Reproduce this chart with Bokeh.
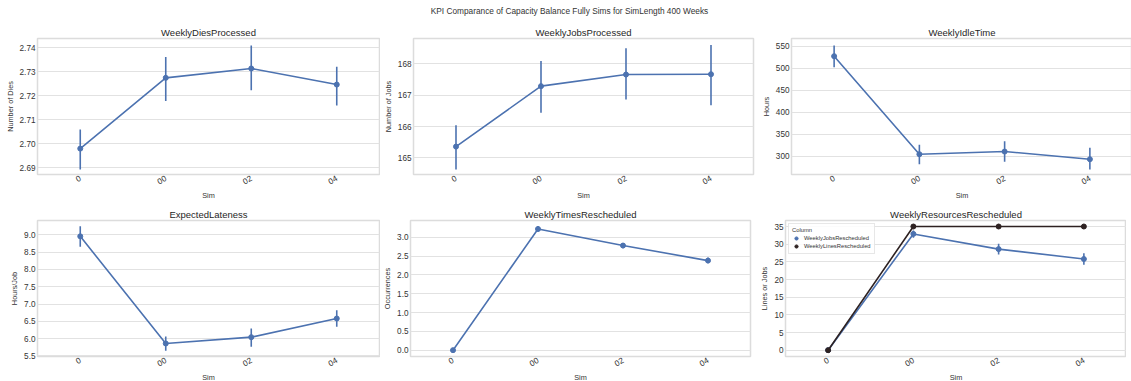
from bokeh.plotting import figure
from bokeh.layouts import column, row
from bokeh.models import (Range1d, FixedTicker, PrintfTickFormatter, Div, Label,
                          Legend, LegendItem)
from bokeh.embed import file_html
from bokeh.resources import INLINE

# ---------------- data ----------------
sims = ["0", "00", "02", "04"]

dies_mean = [2.6980, 2.7275, 2.7314, 2.7247]   # x 1e8
dies_low = [2.6893, 2.7178, 2.7223, 2.7160]
dies_high = [2.7060, 2.7362, 2.7410, 2.7321]
dies_ticks = [2.69, 2.70, 2.71, 2.72, 2.73, 2.74]

jobs_mean = [165.36, 167.29, 167.66, 167.67]
jobs_low = [164.63, 166.44, 166.86, 166.68]
jobs_high = [166.04, 168.09, 168.50, 168.60]
jobs_ticks = [165, 166, 167, 168]

idle_mean = [527.3, 304.5, 310.6, 293.2]
idle_low = [502.3, 281.8, 287.3, 269.8]
idle_high = [551.5, 325.8, 334.0, 319.0]
idle_ticks = [300, 350, 400, 450, 500, 550]

late_mean = [8.96, 5.857, 6.04, 6.58]
late_low = [8.66, 5.645, 5.76, 6.34]
late_high = [9.25, 6.06, 6.29, 6.82]
late_ticks = [5.5, 6.0, 6.5, 7.0, 7.5, 8.0, 8.5, 9.0]

times_mean = [0.0, 3.22, 2.78, 2.38]
times_low = [0.0, 3.15, 2.71, 2.31]
times_high = [0.0, 3.29, 2.85, 2.46]
times_ticks = [0.0, 0.5, 1.0, 1.5, 2.0, 2.5, 3.0]

resjobs_mean = [0.0, 32.9, 28.6, 25.8]
resjobs_low = [0.0, 31.8, 27.1, 24.2]
resjobs_high = [0.0, 33.9, 30.1, 27.4]
reslines_mean = [0.0, 35.0, 35.0, 35.0]
res_ticks = [0, 5, 10, 15, 20, 25, 30, 35]

BLUE = "#4c72b0"
DARK = "#2e2222"
FONT = "Liberation Sans"
TXT = "#333333"
GRID = "#e2e2e2"


def make_fig(title, ylabel, yr, ticks, fmt, left, fw, right, top, bottom, xlab_standoff):
    p = figure(x_range=sims, y_range=Range1d(*yr), frame_width=fw, frame_height=136,
               min_border_left=left, min_border_right=right, min_border_top=top,
               min_border_bottom=bottom, output_backend="svg", toolbar_location=None,
               title=title)
    p.title.text_font = FONT
    p.title.text_font_size = "9.5px"
    p.title.text_font_style = "normal"
    p.title.text_color = "#262626"
    p.title.align = "center"
    p.title.standoff = 2
    p.xaxis.axis_label = "Sim"
    p.yaxis.axis_label = ylabel
    for ax in (p.xaxis[0], p.yaxis[0]):
        ax.axis_line_color = None
        ax.major_tick_line_color = None
        ax.minor_tick_line_color = None
        ax.major_tick_out = 0
        ax.major_tick_in = 0
        ax.minor_tick_out = 0
        ax.minor_tick_in = 0
        ax.major_label_text_font = FONT
        ax.major_label_text_font_size = "8.2px"
        ax.major_label_text_color = TXT
        ax.axis_label_text_font = FONT
        ax.axis_label_text_font_size = "7.3px"
        ax.axis_label_text_font_style = "normal"
        ax.axis_label_text_color = TXT
    p.xaxis.major_label_orientation = 0.52
    p.xaxis.major_label_standoff = 3
    p.xaxis.axis_label_standoff = xlab_standoff
    p.yaxis.major_label_standoff = 2
    p.yaxis.axis_label_standoff = 2
    p.yaxis.ticker = FixedTicker(ticks=ticks)
    p.yaxis.formatter = PrintfTickFormatter(format=fmt)
    p.xgrid.grid_line_color = None
    p.ygrid.grid_line_color = GRID
    p.ygrid.grid_line_width = 1
    p.outline_line_color = "#dcdcdc"
    p.outline_line_width = 1.5
    p.background_fill_color = "white"
    p.border_fill_color = "white"
    return p


def draw(p, mean, low, high, color):
    p.line(sims, mean, color=color, line_width=1.6)
    p.segment(x0=sims, y0=low, x1=sims, y1=high, color=color, line_width=1.6)
    return p.scatter(sims, mean, size=5, color=color)


# layout geometry (borders)
T1, B1 = 20, 26
T2, B2 = 17, 24

f1 = make_fig("WeeklyDiesProcessed", "Number of Dies", (2.6872, 2.7439), dies_ticks, "%.2f",
              37, 342, 1, T1, B1, 1)
draw(f1, dies_mean, dies_low, dies_high, BLUE)
f1.add_layout(Label(x=0, y=2.7439, x_offset=1, y_offset=2, text="1e8", text_font=FONT,
                    text_font_size="5.5px", text_color=TXT, text_baseline="bottom"))

f2 = make_fig("WeeklyJobsProcessed", "Number of Jobs", (164.47, 168.81), jobs_ticks, "%d",
              30, 340, 5, T1, B1, 1)
draw(f2, jobs_mean, jobs_low, jobs_high, BLUE)

f3 = make_fig("WeeklyIdleTime", "Hours", (258.4, 567.5), idle_ticks, "%d",
              30, 341, 0, T1, B1, 1)
draw(f3, idle_mean, idle_low, idle_high, BLUE)

f4 = make_fig("ExpectedLateness", "Hours/Job", (5.48, 9.418), late_ticks, "%.1f",
              37, 342, 1, T2, B2, 1)
draw(f4, late_mean, late_low, late_high, BLUE)

f5 = make_fig("WeeklyTimesRescheduled", "Occurrences", (-0.168, 3.445), times_ticks, "%.1f",
              30, 340, 5, T2, B2, 1)
draw(f5, times_mean, times_low, times_high, BLUE)

f6 = make_fig("WeeklyResourcesRescheduled", "Lines or Jobs", (-1.79, 36.7), res_ticks, "%d",
              30, 341, 0, T2, B2, 1)
r_jobs = draw(f6, resjobs_mean, resjobs_low, resjobs_high, BLUE)
r_lines = draw(f6, reslines_mean, reslines_mean, reslines_mean, DARK)
legend = Legend(items=[LegendItem(label="WeeklyJobsRescheduled", renderers=[r_jobs]),
                       LegendItem(label="WeeklyLinesRescheduled", renderers=[r_lines])],
                location="top_left", title="Column")
legend.title_text_font = FONT
legend.title_text_font_size = "5.8px"
legend.title_text_font_style = "normal"
legend.title_text_color = TXT
legend.title_standoff = 1
legend.label_text_font = FONT
legend.label_text_font_size = "5.8px"
legend.label_text_color = TXT
legend.glyph_width = 8
legend.glyph_height = 8
legend.label_height = 8
legend.label_standoff = 4
legend.spacing = 0
legend.padding = 3
legend.margin = 3
legend.border_line_color = "#d0d0d0"
legend.border_line_width = 1
legend.background_fill_alpha = 0.85
f6.add_layout(legend)

sup = Div(text='<div style="position:relative;top:-3px;left:7px;width:1115px;text-align:center;'
               'font-family:\'Liberation Sans\';font-size:8.3px;color:#333333;white-space:nowrap;">'
               'KPI Comparance of Capacity Balance Fully Sims for SimLength 400 Weeks</div>',
          width=1115, height=8)

layout = column(sup, row(f1, f2, f3), row(f4, f5, f6))

open("out.html", "w").write(file_html(layout, INLINE))
